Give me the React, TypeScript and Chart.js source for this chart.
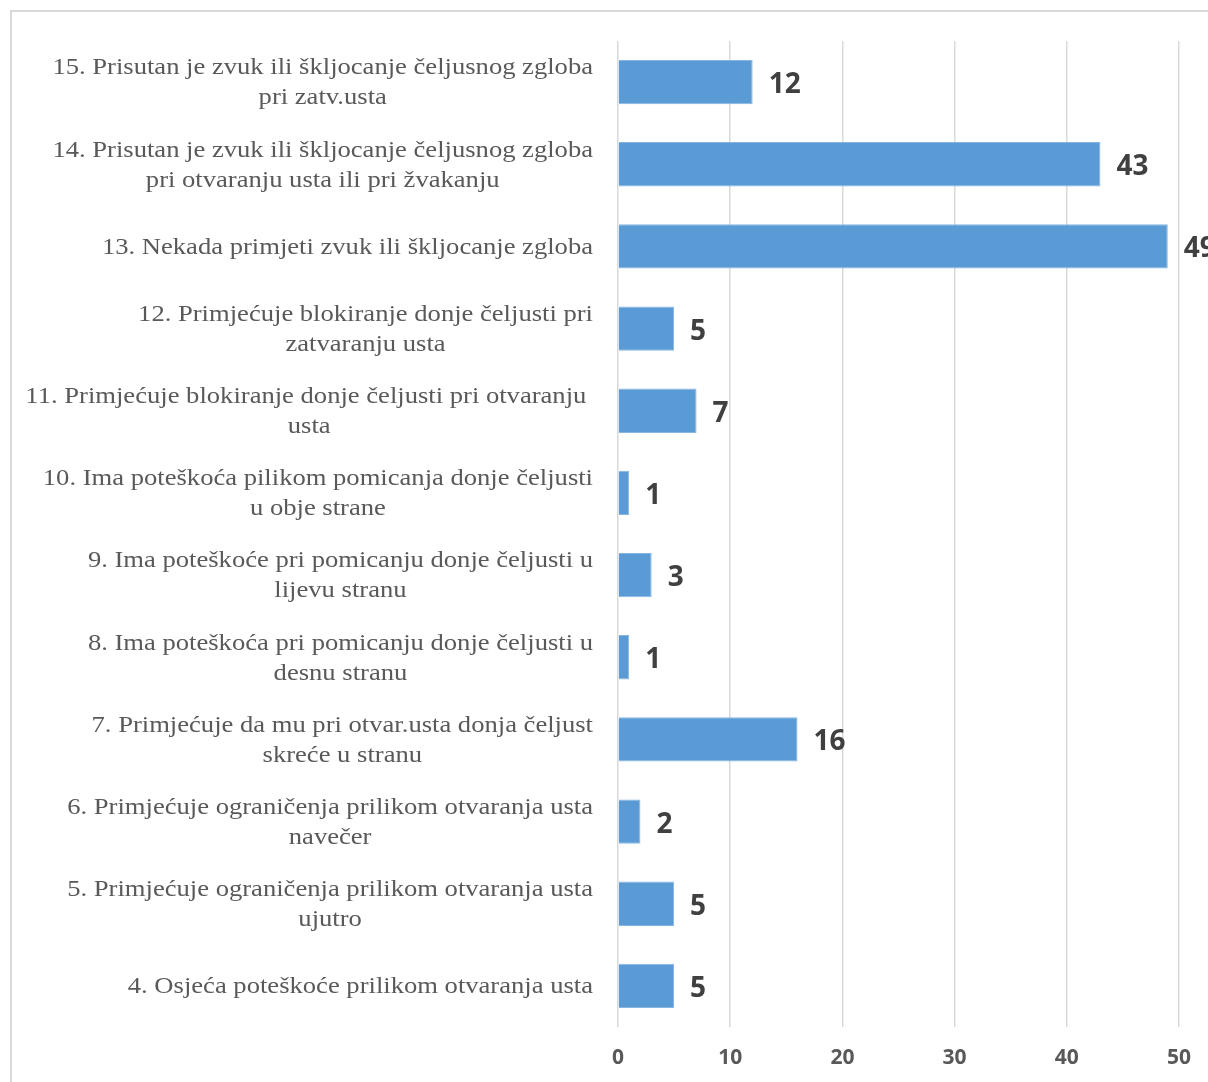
import React, { useEffect, useRef } from "react";
import { Chart, registerables } from "chart.js";

Chart.register(...registerables);

const categories: string[][] = [
  ["15. Prisutan je zvuk ili škljocanje čeljusnog zgloba", "pri zatv.usta"],
  ["14. Prisutan je zvuk ili škljocanje čeljusnog zgloba", "pri otvaranju usta ili pri žvakanju"],
  ["13. Nekada primjeti zvuk ili škljocanje zgloba"],
  ["12. Primjećuje blokiranje donje čeljusti pri", "zatvaranju usta"],
  ["11. Primjećuje blokiranje donje čeljusti pri otvaranju ", "usta"],
  ["10. Ima poteškoća pilikom pomicanja donje čeljusti", "u obje strane"],
  ["9. Ima poteškoće pri pomicanju donje čeljusti u", "lijevu stranu"],
  ["8. Ima poteškoća pri pomicanju donje čeljusti u", "desnu stranu"],
  ["7. Primjećuje da mu pri otvar.usta donja čeljust", "skreće u stranu"],
  ["6. Primjećuje ograničenja prilikom otvaranja usta", "navečer"],
  ["5. Primjećuje ograničenja prilikom otvaranja usta", "ujutro"],
  ["4. Osjeća poteškoće prilikom otvaranja usta"],
];

const values: number[] = [12, 43, 49, 5, 7, 1, 3, 1, 16, 2, 5, 5];

const xTicks: number[] = [0, 10, 20, 30, 40, 50];

const LABEL_FONT = '24px "Liberation Serif", "Times New Roman", serif';
const LABEL_SCALE_X = 1.108;
const LABEL_COLOR = "#595959";
const LABEL_RIGHT = 593;
const LINE_H = 30;

const categoryLabelPlugin = {
  id: "categoryLabels",
  afterDraw(chart: any) {
    const ctx = chart.ctx as CanvasRenderingContext2D;
    const yScale = chart.scales.y;
    const labels = chart.data.labels as string[][];
    ctx.save();
    ctx.font = LABEL_FONT;
    ctx.fillStyle = LABEL_COLOR;
    ctx.textAlign = "center";
    ctx.textBaseline = "middle";
    labels.forEach((lines, i) => {
      const yc = yScale.getPixelForValue(i) + 1;
      const w = Math.max(...lines.map((l) => ctx.measureText(l).width)) * LABEL_SCALE_X;
      const cx = LABEL_RIGHT - w / 2;
      const n = lines.length;
      lines.forEach((line, j) => {
        ctx.save();
        ctx.translate(cx, yc + (j - (n - 1) / 2) * LINE_H);
        ctx.scale(LABEL_SCALE_X, 1);
        ctx.fillText(line, 0, 0);
        ctx.restore();
      });
    });
    ctx.restore();
  },
};

const valueLabelPlugin = {
  id: "valueLabels",
  afterDatasetsDraw(chart: any) {
    const ctx = chart.ctx as CanvasRenderingContext2D;
    const meta = chart.getDatasetMeta(0);
    const data = chart.data.datasets[0].data as number[];
    ctx.save();
    ctx.font = 'bold 28px "Open Sans", "DejaVu Sans", sans-serif';
    ctx.fillStyle = "#404040";
    ctx.textAlign = "left";
    ctx.textBaseline = "middle";
    meta.data.forEach((bar: any, i: number) => {
      ctx.fillText(String(data[i]), bar.x + 16, bar.y + 3);
    });
    ctx.restore();
  },
};

export default function App() {
  const ref = useRef<HTMLCanvasElement | null>(null);

  useEffect(() => {
    if (!ref.current) return;
    const chart = new Chart(ref.current, {
      type: "bar",
      data: {
        labels: categories as any,
        datasets: [
          {
            data: values,
            backgroundColor: "#5B9BD5",
            borderColor: "#86b5e2",
            borderWidth: 1,
            barPercentage: 0.9,
            categoryPercentage: 0.6,
          },
        ],
      },
      options: {
        indexAxis: "y",
        responsive: false,
        animation: false,
        devicePixelRatio: 1,
        layout: { padding: { left: 0, right: 61, top: 41, bottom: 0 } },
        plugins: {
          legend: { display: false },
          tooltip: { enabled: false },
        },
        scales: {
          x: {
            min: 0,
            max: 50,
            afterBuildTicks(scale: any) {
              scale.ticks = xTicks.map((v) => ({ value: v }));
            },
            afterFit(scale: any) {
              scale.height = 55;
            },
            grid: { color: "#d9d9d9", lineWidth: 1.5, drawTicks: false },
            border: { display: false },
            ticks: {
              padding: 18,
              color: "#595959",
              font: { family: '"Liberation Sans Narrow", "Open Sans", sans-serif', size: 21, weight: "bold" },
            },
          },
          y: {
            afterFit(scale: any) {
              scale.width = 618;
            },
            grid: { display: false },
            border: { display: false },
            ticks: { display: false },
          },
        },
      },
      plugins: [categoryLabelPlugin, valueLabelPlugin],
    });
    return () => chart.destroy();
  }, []);

  return (
    <div style={{ position: "absolute", left: 0, top: 0, width: 1208, height: 1082, overflow: "hidden", background: "#fff" }}>
      <div
        style={{
          position: "absolute",
          left: 10,
          top: 10,
          width: 1300,
          height: 1200,
          border: "2px solid #d9d9d9",
          boxSizing: "border-box",
        }}
      />
      <canvas
        ref={ref}
        width={1240}
        height={1082}
        style={{ position: "absolute", left: 0, top: 0, width: 1240, height: 1082 }}
      />
    </div>
  );
}
